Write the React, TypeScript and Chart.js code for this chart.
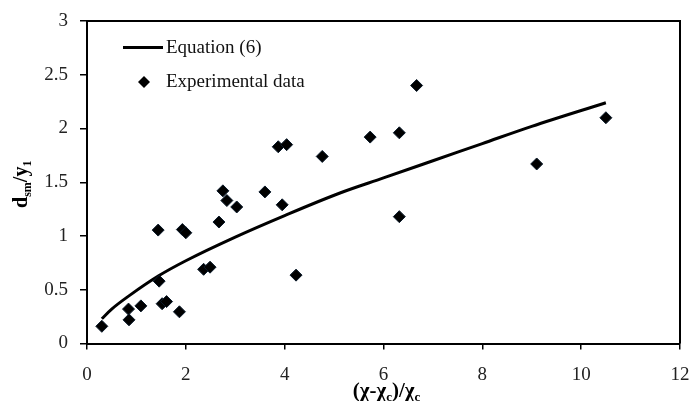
import { useEffect, useRef } from 'react';
import { Chart, registerables } from 'chart.js';

Chart.register(...registerables);

const expX = [0.30, 0.84, 0.85, 1.09, 1.44, 1.46, 1.52, 1.61, 1.87, 1.93, 2.00, 2.36, 2.49, 2.67, 2.75, 2.83, 3.03, 3.60, 3.87, 4.04, 3.95, 4.23, 4.76, 5.73, 6.32, 6.67, 6.32, 9.10, 10.50];
const expY = [0.16, 0.32, 0.22, 0.35, 1.055, 0.58, 0.37, 0.39, 0.295, 1.06, 1.03, 0.69, 0.71, 1.13, 1.42, 1.33, 1.27, 1.41, 1.83, 1.85, 1.29, 0.636, 1.74, 1.92, 1.96, 2.40, 1.18, 1.67, 2.10];
const eqX = [0.3, 0.5, 0.87, 1.45, 2, 3, 4, 5.12, 6, 7, 8, 9, 10.5];
const eqY = [0.23, 0.32, 0.45, 0.63, 0.77, 0.99, 1.19, 1.40, 1.54, 1.70, 1.86, 2.02, 2.24];
const seriesLabels = ['Equation (6)', 'Experimental data'];
const xTitleParts: [string, boolean][] = [['(χ-χ', false], ['c', true], [')/χ', false], ['c', true]];
const yTitleParts: [string, boolean][] = [['d', false], ['sm', true], ['/y', false], ['1', true]];

const FONT = '"Liberation Serif", "Times New Roman", serif';

function drawParts(ctx: CanvasRenderingContext2D, parts: [string, boolean][], size: number, bold: boolean) {
  const main = `${bold ? 'bold ' : ''}${size}px ${FONT}`;
  const sub = `${bold ? 'bold ' : ''}${Math.round(size * 0.62)}px ${FONT}`;
  let w = 0;
  for (const [t, s] of parts) {
    ctx.font = s ? sub : main;
    w += ctx.measureText(t).width;
  }
  let x = -w / 2;
  ctx.textBaseline = 'alphabetic';
  ctx.textAlign = 'left';
  for (const [t, s] of parts) {
    ctx.font = s ? sub : main;
    ctx.fillText(t, x, s ? size * 0.32 + 4 : size * 0.32);
    x += ctx.measureText(t).width;
  }
}

const decorPlugin = {
  id: 'decor',
  afterDraw(chart: any) {
    const { ctx, chartArea } = chart;
    const { left, right, top, bottom } = chartArea;
    ctx.save();
    ctx.strokeStyle = '#000';
    ctx.lineWidth = 2;
    ctx.beginPath();
    ctx.moveTo(left, top);
    ctx.lineTo(right, top);
    ctx.lineTo(right, bottom);
    ctx.stroke();

    // legend
    const ds = chart.data.datasets;
    ctx.fillStyle = '#111';
    ctx.font = `19px ${FONT}`;
    ctx.textBaseline = 'middle';
    ctx.textAlign = 'left';
    ctx.lineWidth = 3;
    ctx.beginPath();
    ctx.moveTo(left + 36, top + 26.5);
    ctx.lineTo(left + 76, top + 26.5);
    ctx.stroke();
    ctx.fillText(ds[0].label, left + 79, top + 27);
    const cx = left + 57, cy = top + 61;
    ctx.beginPath();
    ctx.moveTo(cx, cy - 6);
    ctx.lineTo(cx + 6, cy);
    ctx.lineTo(cx, cy + 6);
    ctx.lineTo(cx - 6, cy);
    ctx.closePath();
    ctx.fillStyle = '#000';
    ctx.fill();
    ctx.fillStyle = '#111';
    ctx.fillText(ds[1].label, left + 79, top + 61);

    // axis titles
    ctx.fillStyle = '#000';
    ctx.save();
    ctx.translate((left + right) / 2 + 3, 390);
    drawParts(ctx, xTitleParts, 21, true);
    ctx.restore();
    ctx.save();
    ctx.translate(21, (top + bottom) / 2 + 2);
    ctx.rotate(-Math.PI / 2);
    drawParts(ctx, yTitleParts, 20, true);
    ctx.restore();
    ctx.restore();
  },
};

export default function App() {
  const ref = useRef<HTMLCanvasElement | null>(null);
  useEffect(() => {
    document.body.style.margin = '0';
    const canvas = ref.current!;
    const chart = new Chart(canvas, {
      type: 'scatter',
      data: {
        datasets: [
          {
            label: seriesLabels[0],
            data: eqX.map((x, i) => ({ x, y: eqY[i] })),
            showLine: true,
            borderColor: '#000',
            borderWidth: 3,
            pointRadius: 0,
            tension: 0.4,
            cubicInterpolationMode: 'monotone',
            order: 2,
          } as any,
          {
            label: seriesLabels[1],
            data: expX.map((x, i) => ({ x, y: expY[i] })),
            showLine: false,
            pointStyle: 'rectRot',
            pointRadius: 6,
            backgroundColor: '#000',
            borderColor: '#0a1a2a',
            borderWidth: 1,
            order: 1,
          } as any,
        ],
      },
      options: {
        animation: false,
        responsive: false,
        maintainAspectRatio: false,
        layout: { padding: { left: 0, right: 9, top: 21, bottom: 0 } },
        plugins: { legend: { display: false }, tooltip: { enabled: false } },
        scales: {
          x: {
            type: 'linear',
            min: 0,
            max: 12,
            ticks: { stepSize: 2, color: '#222', font: { family: FONT, size: 19 }, padding: 14, maxRotation: 0 },
            grid: { display: true, drawOnChartArea: false, drawTicks: true, tickLength: 6, color: '#000', lineWidth: 1.5 },
            border: { display: true, color: '#000', width: 2 },
            afterFit: (s: any) => { s.height = 57.5; s.paddingLeft = 0; s.paddingRight = 0; },
          },
          y: {
            type: 'linear',
            min: 0,
            max: 3,
            ticks: {
              stepSize: 0.5,
              color: '#222',
              font: { family: FONT, size: 19 },
              padding: 12,
              callback: (v: any) => String(Number(v)),
            },
            grid: { display: true, drawOnChartArea: false, drawTicks: true, tickLength: 7, color: '#000', lineWidth: 1.5 },
            border: { display: true, color: '#000', width: 2 },
            afterFit: (s: any) => { s.width = 87; s.paddingTop = 0; s.paddingBottom = 0; },
          },
        },
      },
      plugins: [decorPlugin],
    });
    return () => chart.destroy();
  }, []);
  return (
    <div style={{ position: 'absolute', left: 0, top: 0, width: 689, height: 401, background: '#fff' }}>
      <canvas ref={ref} width={689} height={401} style={{ width: 689, height: 401, display: 'block' }} />
    </div>
  );
}
